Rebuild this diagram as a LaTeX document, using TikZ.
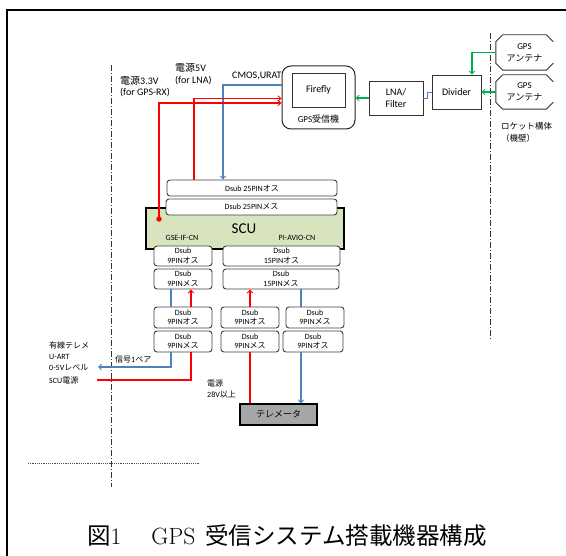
\documentclass[tikz,border=0pt]{standalone}
\usepackage{fontspec}
\newfontfamily\calfont{Carlito}
\newfontfamily\jpfont{Noto Sans CJK JP}
\usetikzlibrary{arrows.meta}
\definecolor{rd}{HTML}{FF0000}
\definecolor{bl}{HTML}{4F81BD}
\definecolor{gr}{HTML}{00B050}
\definecolor{scufill}{HTML}{D7E4BD}
\definecolor{telefill}{HTML}{A6A6A6}
\begin{document}
\begin{tikzpicture}[x=1pt,y=-1pt,
  sz/.style 2 args={minimum width=#1pt,minimum height=#2pt},
  dbox/.style={draw=black!75,rounded corners=3pt,line width=0.9pt,fill=white,align=center,inner sep=0pt,font=\calfont\fontsize{8}{9.5}\selectfont},
  pbox/.style={draw=black!80,line width=0.9pt,fill=white,align=center,inner sep=0pt,font=\calfont\fontsize{10}{12.5}\selectfont},
  lbl/.style={anchor=west,align=left,inner sep=0pt,font=\calfont\fontsize{8}{11}\selectfont},
  lblb/.style={anchor=west,align=left,inner sep=0pt,font=\calfont\fontsize{10}{11.5}\selectfont},
  tip/.style={-{Straight Barb[length=3pt,width=5.5pt,line width=0.9pt]}},
  rline/.style={draw=rd,line width=1.1pt},
  bline/.style={draw=bl,line width=1.1pt},
  gline/.style={draw=gr,line width=1.1pt},
  dashdot/.style={draw=black!80,line width=0.8pt,dash pattern=on 6pt off 2pt on 1pt off 2pt}]
\useasboundingbox (0,0) rectangle (566,556);
% frame
\draw[line width=1.4pt] (7,556) -- (7,10) -- (566,10);
% boundary lines
\draw[dashdot] (111,65) -- (111,487);
\draw[dashdot] (490,33) -- (490,340);
\draw[black!70,line width=0.7pt,dash pattern=on 1.2pt off 1pt] (28,463) -- (199,463);
% GPS receiver
\node[draw=black!85,line width=1pt,rounded corners=9pt,sz={73}{63}] (gpsrx) at (318.5,97.5) {};
\node[pbox,sz={53}{34}] (firefly) at (318.5,90) {Firefly};
\node[inner sep=0pt,font=\calfont\fontsize{9}{10}\selectfont] (gpsrxlbl) at (318.5,119) {GPS{\jpfont 受信機}};
\node[pbox,sz={54}{34}] (lna) at (396,98) {LNA/\\Filter};
\node[pbox,sz={49}{34}] (div) at (456.5,92) {Divider};
% antennas
\node[align=center,inner sep=0pt,sz={57}{35},font=\calfont\fontsize{9}{12}\selectfont] (ant1) at (524.5,52.5) {GPS\\{\jpfont アンテナ}};
\node[align=center,inner sep=0pt,sz={57}{34},font=\calfont\fontsize{9}{12}\selectfont] (ant2) at (524.5,92) {GPS\\{\jpfont アンテナ}};
\foreach \a in {ant1,ant2}
  \draw[line width=0.9pt,draw=black!80] ([yshift=-7pt]\a.north east) -- ([xshift=-7pt]\a.north east) -- ([xshift=7pt]\a.north west) -- ([yshift=-7pt]\a.north west) -- ([yshift=7pt]\a.south west) -- ([xshift=7pt]\a.south west) -- ([xshift=-7pt]\a.south east) -- ([yshift=7pt]\a.south east);
\node[lbl,font=\calfont\fontsize{8.5}{12}\selectfont] (rocket) at (501,132) {{\jpfont ロケット構体}\\{\jpfont （機壁）}};
% SCU and connectors
\node[draw=black,line width=1.8pt,fill=scufill,sz={198}{41},inner sep=0pt] (scu) at (245,228.5) {};
\node[inner sep=0pt,font=\calfont\fontsize{15}{16}\selectfont] (scult) at (244,229) {SCU};
\node[inner sep=0pt,font=\calfont\fontsize{8}{9}\selectfont] (gseif) at (182,238) {GSE-IF-CN};
\node[inner sep=0pt,font=\calfont\fontsize{8}{9}\selectfont] (piavio) at (297,238) {PI-AVIO-CN};
\node[dbox,sz={170}{16}] (d25o) at (252,188) {Dsub 25PIN{\jpfont オス}};
\node[dbox,sz={171}{16}] (d25m) at (251.5,207) {Dsub 25PIN{\jpfont メス}};
\node[dbox,sz={58}{20}] (d9o1) at (183,256) {Dsub\\9PIN{\jpfont オス}};
\node[dbox,sz={117}{20}] (d15o) at (281.5,256) {Dsub\\15PIN{\jpfont オス}};
\node[dbox,sz={58}{20}] (d9m1) at (183,279) {Dsub\\9PIN{\jpfont メス}};
\node[dbox,sz={116}{20}] (d15m) at (281,279) {Dsub\\15PIN{\jpfont メス}};
\node[dbox,sz={58}{21}] (l1) at (183,317.5) {Dsub\\9PIN{\jpfont オス}};
\node[dbox,sz={58}{21}] (l2) at (183,341.5) {Dsub\\9PIN{\jpfont メス}};
\node[dbox,sz={58}{21}] (m1) at (250,317.5) {Dsub\\9PIN{\jpfont オス}};
\node[dbox,sz={58}{21}] (m2) at (250,341.5) {Dsub\\9PIN{\jpfont メス}};
\node[dbox,sz={58}{21}] (r1) at (315,317.5) {Dsub\\9PIN{\jpfont メス}};
\node[dbox,sz={60}{21}] (r2) at (313,341.5) {Dsub\\9PIN{\jpfont オス}};
\node[draw=black,line width=1.1pt,fill=telefill,sz={77}{21},inner sep=0pt,font=\jpfont\fontsize{9}{10}\selectfont] (tele) at (278.5,414.5) {テレメータ};
\node[circle,fill=rd,inner sep=0pt,minimum size=5.5pt] (dot) at (159,219) {};
% labels
\node[lblb] (v33) at (120,86.5) {{\jpfont 電源}3.3V\\(for GPS-RX)};
\node[lblb] (v5) at (175,74) {{\jpfont 電源}5V\\(for LNA)};
\node[lblb] (cmos) at (232,76) {CMOS,URAT};
\node[lbl] (wired) at (49,356) {{\jpfont 有線テレメ}\\U-ART\\0-5V{\jpfont レベル}};
\node[lbl] (scupwr) at (49,381) {SCU{\jpfont 電源}};
\node[lbl] (sig) at (115,359) {{\jpfont 信号}1{\jpfont ペア}};
\node[lbl] (v28) at (207,389.5) {{\jpfont 電源}\\28V{\jpfont 以上}};
\coordinate (sigend) at (98,367);
\coordinate (pwrend) at (97,380);
% RF connections
\draw[gline,tip] (ant1.west) -| ([xshift=15.5pt]div.north);
\draw[gline,tip] (ant2.west) -- (div.east);
\draw[gline,tip] (lna.west) -- (lna.west -| gpsrx.east);
\draw[bline,line width=0.8pt] (lna.east) -- ++(4,0) |- (div.west);
% power / data
\draw[bline,tip] ([yshift=12.5pt]gpsrx.west) -| ([xshift=-29pt]d25o.north);
\draw[rline,tip] ([xshift=-58pt]d25o.north) |- ([yshift=-1pt]gpsrx.west);
\draw[rline,tip] (dot.center) |- ([yshift=-5.5pt]gpsrx.west);
% left chain
\draw[bline] ([xshift=-12pt]d9m1.south) -- ([xshift=-12pt]l1.north);
\draw[rline,tip] ([xshift=8pt]l1.north) -- ([xshift=8pt]d9m1.south);
\draw[bline,tip] ([xshift=-12pt]l2.south) |- (sigend);
\draw[rline] ([xshift=8pt]l2.south) |- (pwrend);
% middle / right chain
\draw[rline] (m2.south |- tele.north) -- (m2.south);
\draw[rline,tip] (m1.north) -- (m1.north |- d15m.south);
\draw[bline] ([xshift=20pt]d15m.south) -- ([xshift=20pt]d15m.south |- r1.north);
\draw[bline,tip] ([xshift=20pt]d15m.south |- r2.south) -- ([xshift=20pt]d15m.south |- tele.north);
% caption
\node[anchor=west,inner sep=0pt,font=\fontsize{23.5}{25}\selectfont] (cap) at (87,536) {{\jpfont 図}1\hspace{30pt}GPS\hspace{10pt}{\jpfont 受信システム搭載機器構成}};
\end{tikzpicture}
\end{document}
